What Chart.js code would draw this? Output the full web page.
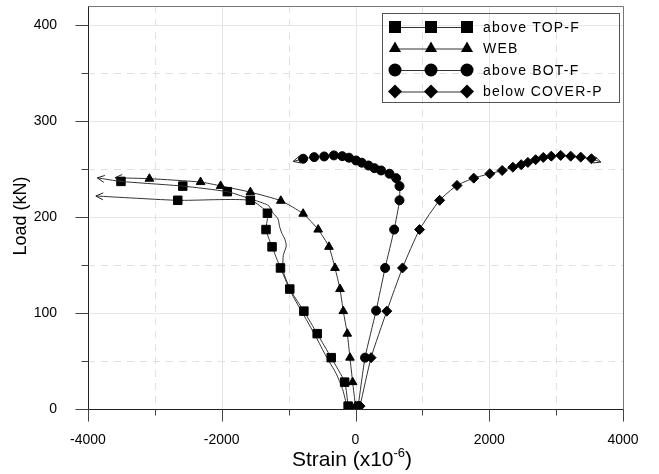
<!DOCTYPE html>
<html>
<head>
<meta charset="utf-8">
<script src="https://cdn.jsdelivr.net/npm/chart.js@4.4.1/dist/chart.umd.min.js"></script>
<style>
  html, body { margin: 0; padding: 0; background: #fff; }
  #wrap { width: 659px; height: 474px; }
</style>
</head>
<body>
<div id="wrap"><canvas id="grafico"></canvas></div>
<script>
// tick values
const xTicks = [-4000, -2000, 0, 2000, 4000];
const xMinor = [-3000, -1000, 1000, 3000];
const yTicks = [0, 100, 200, 300, 400];
const yMinor = [50, 150, 250, 350];

// above TOP-F, gauge line with markers (strain x10^-6, load kN)
const topFA_strain = [-110, -162, -363, -573, -772, -983, -1122, -1248, -1338, -1317, -1572, -2658, -3882];
const topFA_load   = [3, 28, 53.5, 78.5, 102, 125, 147, 169, 187, 204, 217.5, 217.5, 222];

// above TOP-F, second trace (markers only near the top)
const topFB_strain = [-130, -190, -290, -440, -590, -750, -930, -1010, -1070, -1085, -1080, -1035, -1057, -1100, -1135, -1158, -1230, -1300, -1480, -1660, -1917, -2583, -3507, -3862];
const topFB_load   = [3, 20, 37, 55, 75, 95, 117, 130, 141, 150, 160, 170, 177, 183, 190, 198, 204, 212, 217, 221, 226.5, 232.3, 237.2, 240.9];
const topFB_markStrain = [-1917, -2583, -3507];
const topFB_markLoad   = [226.5, 232.3, 237.2];

// WEB
const web_strain = [0, -43, -83, -123, -183, -232, -307, -397, -558, -783, -1117, -1572, -2017, -2317, -3082, -3597];
const web_load   = [3, 28, 53.5, 78.5, 102, 125, 147, 169, 187, 203.5, 217, 226, 232.5, 236.5, 240, 241];

// above BOT-F
const botF_strain = [40, 143, 308, 443, 578, 658, 658, 608, 508, 383, 283, 193, 93, 8, -98, -198, -323, -468, -618, -783, -933];
const botF_load   = [3, 53.5, 102.5, 147, 187, 217.5, 232.3, 240.6, 245.2, 248.6, 251, 253.8, 256.7, 259, 261.9, 263.5, 264.3, 263.2, 262.5, 260.8, 258];

// below COVER-P
const cover_strain = [68, 233, 468, 703, 958, 1258, 1518, 1768, 2008, 2193, 2353, 2478, 2578, 2693, 2808, 2928, 3068, 3218, 3368, 3528, 3668];
const cover_load   = [3, 53.5, 102, 147, 187, 217.5, 233, 240.6, 245.2, 248.6, 252, 254.6, 257, 259.8, 262.2, 263.5, 264.3, 263.5, 262.5, 260.8, 257.3];

const FONT = "'Liberation Sans', Arial, sans-serif";
const PLOT_TOP = 6;

function pts(xs, ys) {
    return xs.map((x, i) => ({ x: x, y: ys[i] }));
}

// no marker on the arrow tip (last point)
function markerRadius(r) {
    return function (ctx) {
        const n = ctx.dataset.data.length;
        return ctx.dataIndex === n - 1 && ctx.dataset.arrow ? 0 : r;
    };
}

function serie(label, xs, ys, style, r, extra) {
    return Object.assign({
        label: label,
        data: pts(xs, ys),
        showLine: true,
        borderColor: '#333',
        borderWidth: 1,
        tension: 0.2,
        pointStyle: style,
        pointRadius: markerRadius(r),
        pointBackgroundColor: '#000',
        pointBorderColor: '#000',
        pointBorderWidth: 1,
        arrow: true
    }, extra || {});
}

const datasets = [
    serie('above TOP-F', topFA_strain, topFA_load, 'rect', 6),
    serie('', topFB_strain, topFB_load, 'rect', 0, { pointRadius: 0 }),
    serie('', topFB_markStrain, topFB_markLoad, 'rect', 6, { showLine: false, arrow: false }),
    serie('WEB', web_strain, web_load, 'triangle', 5),
    serie('above BOT-F', botF_strain, botF_load, 'circle', 4.5),
    serie('below COVER-P', cover_strain, cover_load, 'rectRot', 5)
];

// legend entries drawn by hand (marker - line - marker - line - marker)
const legendItems = [
    { text: 'above TOP-F', style: 'rect' },
    { text: 'WEB', style: 'triangle' },
    { text: 'above BOT-F', style: 'circle' },
    { text: 'below COVER-P', style: 'rectRot' }
];

function marker(ctx, style, x, y, r) {
    ctx.beginPath();
    if (style === 'rect') {
        const s = r * Math.SQRT1_2;
        ctx.rect(x - s, y - s, 2 * s, 2 * s);
    } else if (style === 'triangle') {
        ctx.moveTo(x, y - r);
        ctx.lineTo(x + r * 0.866, y + r * 0.5);
        ctx.lineTo(x - r * 0.866, y + r * 0.5);
        ctx.closePath();
    } else if (style === 'circle') {
        ctx.arc(x, y, r, 0, Math.PI * 2);
    } else {
        ctx.moveTo(x, y - r);
        ctx.lineTo(x + r, y);
        ctx.lineTo(x, y + r);
        ctx.lineTo(x - r, y);
        ctx.closePath();
    }
    ctx.fill();
}

const moldura = {
    id: 'moldura',
    // pull the plot area up to the top of the canvas
    afterLayout(chart) {
        const a = chart.chartArea, y = chart.scales.y;
        a.top = PLOT_TOP;
        a.height = a.bottom - PLOT_TOP;
        y.top = PLOT_TOP;
        y.height = y.bottom - PLOT_TOP;
        y.configure();
        y._labelItems = null;
    },
    beforeDatasetsDraw(chart) {
        const { ctx, chartArea: a, scales: { x, y } } = chart;
        ctx.save();
        ctx.lineWidth = 1;
        // major grid, solid
        ctx.strokeStyle = '#e6e6e6';
        ctx.setLineDash([]);
        xTicks.forEach(v => {
            const px = Math.round(x.getPixelForValue(v)) + 0.5;
            ctx.beginPath(); ctx.moveTo(px, a.top); ctx.lineTo(px, a.bottom); ctx.stroke();
        });
        yTicks.forEach(v => {
            const py = Math.round(y.getPixelForValue(v)) + 0.5;
            ctx.beginPath(); ctx.moveTo(a.left, py); ctx.lineTo(a.right, py); ctx.stroke();
        });
        // minor grid, dashed
        ctx.strokeStyle = '#e0e0e0';
        ctx.setLineDash([7, 6]);
        xMinor.forEach(v => {
            const px = Math.round(x.getPixelForValue(v)) + 0.5;
            ctx.beginPath(); ctx.moveTo(px, a.top); ctx.lineTo(px, a.bottom); ctx.stroke();
        });
        yMinor.forEach(v => {
            const py = Math.round(y.getPixelForValue(v)) + 0.5;
            ctx.beginPath(); ctx.moveTo(a.left, py); ctx.lineTo(a.right, py); ctx.stroke();
        });
        ctx.restore();
    },
    afterDatasetsDraw(chart) {
        const { ctx, chartArea: a, scales: { x, y } } = chart;
        ctx.save();
        ctx.lineWidth = 1;
        ctx.setLineDash([]);
        const L = Math.round(a.left) + 0.5, B = Math.round(a.bottom) + 0.5;
        const T = Math.round(a.top) + 0.5, R = Math.round(a.right) + 0.5;
        // frame top and right
        ctx.strokeStyle = '#777';
        ctx.beginPath(); ctx.moveTo(L, T); ctx.lineTo(R, T); ctx.lineTo(R, B); ctx.stroke();
        // axes
        ctx.strokeStyle = '#222';
        ctx.beginPath(); ctx.moveTo(L, T); ctx.lineTo(L, B); ctx.lineTo(R, B); ctx.stroke();
        // ticks
        ctx.strokeStyle = '#444';
        ctx.beginPath();
        xTicks.forEach(v => { const px = Math.round(x.getPixelForValue(v)) + 0.5; ctx.moveTo(px, B); ctx.lineTo(px, B + 12); });
        xMinor.forEach(v => { const px = Math.round(x.getPixelForValue(v)) + 0.5; ctx.moveTo(px, B); ctx.lineTo(px, B + 6); });
        yTicks.forEach(v => { const py = Math.round(y.getPixelForValue(v)) + 0.5; ctx.moveTo(L, py); ctx.lineTo(L - 13, py); });
        yMinor.forEach(v => { const py = Math.round(y.getPixelForValue(v)) + 0.5; ctx.moveTo(L, py); ctx.lineTo(L - 7, py); });
        ctx.stroke();

        // arrow heads at the end of each trace
        ctx.strokeStyle = '#222';
        chart.data.datasets.forEach((ds, i) => {
            if (!ds.arrow || !ds.showLine) return;
            const pts = chart.getDatasetMeta(i).data;
            const p1 = pts[pts.length - 1], p0 = pts[pts.length - 2];
            const ang = Math.atan2(p1.y - p0.y, p1.x - p0.x);
            const len = 8, spread = 0.45;
            ctx.beginPath();
            ctx.moveTo(p1.x - len * Math.cos(ang - spread), p1.y - len * Math.sin(ang - spread));
            ctx.lineTo(p1.x, p1.y);
            ctx.lineTo(p1.x - len * Math.cos(ang + spread), p1.y - len * Math.sin(ang + spread));
            ctx.stroke();
        });
        ctx.restore();
    },
    afterDraw(chart) {
        const ctx = chart.ctx;
        ctx.save();
        ctx.fillStyle = '#000';
        // axis titles
        ctx.font = '18px ' + FONT;
        ctx.textAlign = 'center';
        ctx.textBaseline = 'middle';
        ctx.save();
        ctx.translate(21, 216);
        ctx.rotate(-Math.PI / 2);
        ctx.fillText('Load (kN)', 0, 0);
        ctx.restore();

        const a = 'Strain (x10', sup = '-6', b = ')';
        ctx.font = '21px ' + FONT;
        const wa = ctx.measureText(a).width, wb = ctx.measureText(b).width;
        ctx.font = '13px ' + FONT;
        const ws = ctx.measureText(sup).width;
        let x0 = 352 - (wa + ws + wb) / 2;
        ctx.textAlign = 'left';
        ctx.textBaseline = 'alphabetic';
        ctx.font = '21px ' + FONT;
        ctx.fillText(a, x0, 466);
        ctx.font = '13px ' + FONT;
        ctx.fillText(sup, x0 + wa, 457);
        ctx.font = '21px ' + FONT;
        ctx.fillText(b, x0 + wa + ws, 466);

        // legend box
        ctx.strokeStyle = '#555';
        ctx.lineWidth = 1;
        ctx.strokeRect(382.5, 13.5, 237, 89);
        const rows = [27, 48.5, 70, 91.5];
        ctx.font = '14px ' + FONT;
        ctx.letterSpacing = '1.2px';
        ctx.textBaseline = 'middle';
        legendItems.forEach((it, k) => {
            const yy = rows[k];
            ctx.strokeStyle = '#333';
            ctx.beginPath(); ctx.moveTo(395, yy + 0.5); ctx.lineTo(467, yy + 0.5); ctx.stroke();
            ctx.fillStyle = '#000';
            const r = it.style === 'rect' ? 8.5 : (it.style === 'circle' ? 6.5 : 7);
            [395, 431, 467].forEach(mx => marker(ctx, it.style, mx, yy, r));
            ctx.fillText(it.text, 483, yy + 1);
        });
        ctx.restore();
    }
};

const el = document.getElementById('grafico');
new Chart(el.getContext('2d'), {
    type: 'scatter',
    data: { datasets: datasets },
    options: {
        responsive: true,
        maintainAspectRatio: false,
        animation: false,
        devicePixelRatio: 1,
        layout: { autoPadding: false, padding: { top: PLOT_TOP, right: 36, left: 0, bottom: 0 } },
        plugins: {
            legend: { display: false },
            tooltip: { enabled: false }
        },
        scales: {
            x: {
                type: 'linear',
                min: -4000,
                max: 4000,
                grid: { display: false },
                border: { display: false },
                afterBuildTicks: s => { s.ticks = xTicks.map(v => ({ value: v })); },
                afterFit: s => { s.height = 65; },
                ticks: {
                    padding: 15,
                    color: '#000',
                    maxRotation: 0,
                    font: { family: FONT, size: 14 },
                    callback: v => String(v)
                }
            },
            y: {
                type: 'linear',
                min: 0,
                max: 420,
                grid: { display: false },
                border: { display: false },
                afterBuildTicks: s => { s.ticks = yTicks.map(v => ({ value: v })); },
                afterFit: s => { s.width = 88; },
                ticks: {
                    padding: 23,
                    color: '#000',
                    font: { family: FONT, size: 14 },
                    callback: v => String(v)
                }
            }
        }
    },
    plugins: [moldura]
});
</script>
</body>
</html>
